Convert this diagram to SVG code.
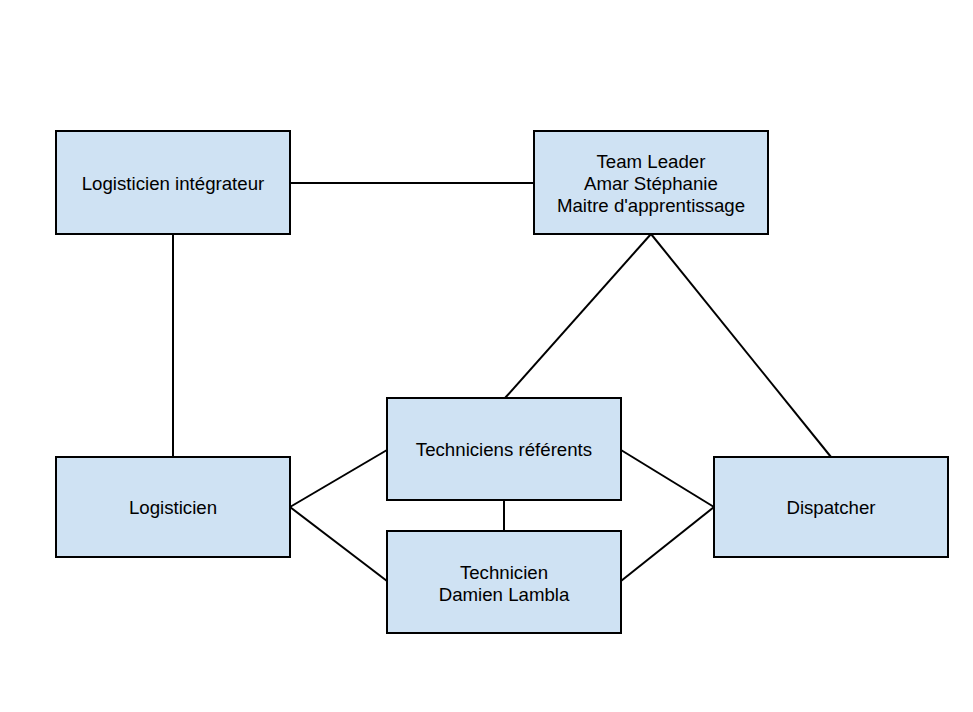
<svg xmlns="http://www.w3.org/2000/svg" width="973" height="712" viewBox="0 0 973 712">
<style>
.box{fill:#cfe2f3;stroke:#000;stroke-width:2}
.lbl{font-family:"Liberation Sans",Arial,sans-serif;font-size:18.67px;fill:#000;text-anchor:middle}
.conn line{stroke:#000;stroke-width:2}
</style>
<rect width="973" height="712" fill="#fff"/>
<g id="connectors" class="conn">
<line x1="290" y1="183" x2="534" y2="183"/>
<line x1="173" y1="234" x2="173" y2="457"/>
<line x1="651" y1="234" x2="505" y2="398"/>
<line x1="651" y1="234" x2="831" y2="457"/>
<line x1="290" y1="507" x2="387" y2="450"/>
<line x1="290" y1="507" x2="387" y2="581"/>
<line x1="714" y1="507" x2="621" y2="450"/>
<line x1="714" y1="507" x2="621" y2="581"/>
<line x1="504" y1="500" x2="504" y2="531"/>
</g>
<g id="logisticien-integrateur">
<rect class="box" x="56" y="131" width="234" height="103"/>
<text class="lbl" x="173" y="190">Logisticien intégrateur</text>
</g>
<g id="team-leader">
<rect class="box" x="534" y="131" width="234" height="103"/>
<text class="lbl" x="651" y="167.5">Team Leader</text>
<text class="lbl" x="651" y="189.5">Amar Stéphanie</text>
<text class="lbl" x="651" y="211.5">Maitre d'apprentissage</text>
</g>
<g id="logisticien">
<rect class="box" x="56" y="457" width="234" height="100"/>
<text class="lbl" x="173" y="514">Logisticien</text>
</g>
<g id="techniciens-referents">
<rect class="box" x="387" y="398" width="234" height="102"/>
<text class="lbl" x="504" y="456">Techniciens référents</text>
</g>
<g id="technicien">
<rect class="box" x="387" y="531" width="234" height="102"/>
<text class="lbl" x="504" y="579">Technicien</text>
<text class="lbl" x="504" y="600.5">Damien Lambla</text>
</g>
<g id="dispatcher">
<rect class="box" x="714" y="457" width="234" height="100"/>
<text class="lbl" x="831" y="514">Dispatcher</text>
</g>
</svg>
